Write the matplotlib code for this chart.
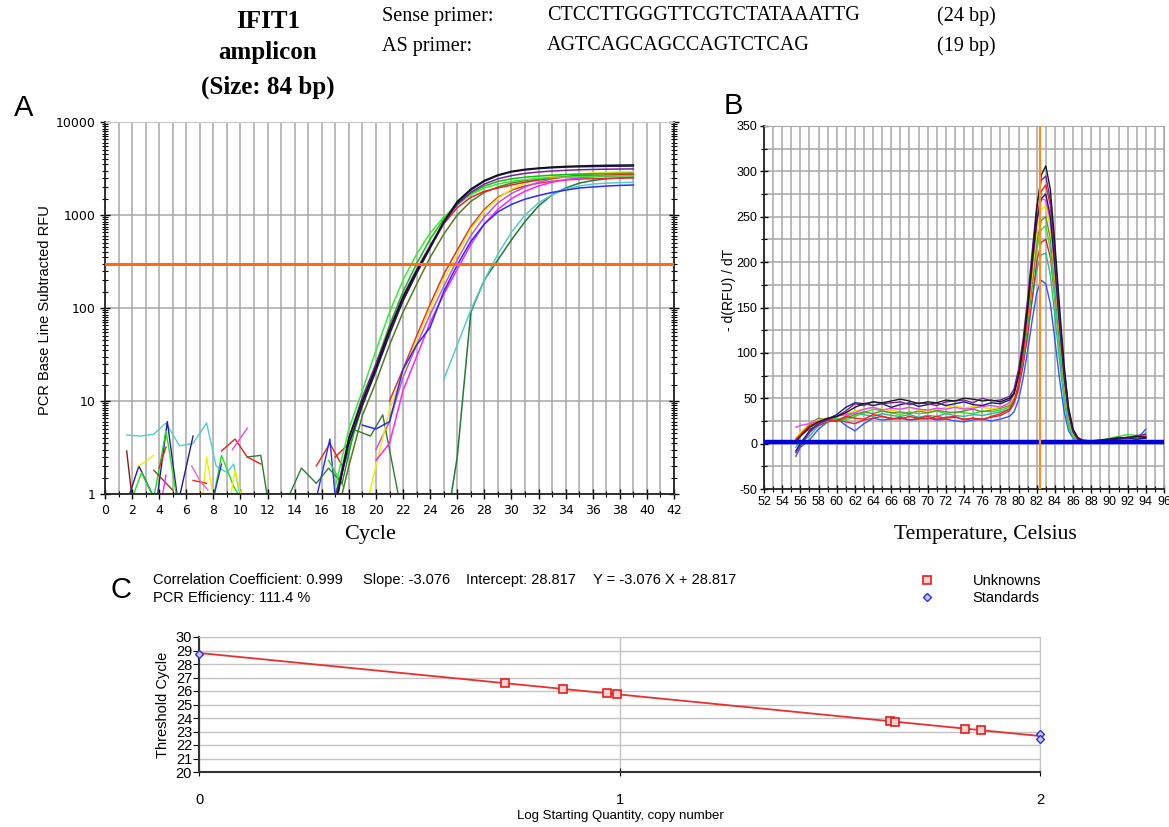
import numpy as np
import matplotlib
matplotlib.use('Agg')
import matplotlib.pyplot as plt
from matplotlib.ticker import LogLocator, NullFormatter, MultipleLocator

plt.rcParams['font.family'] = ['DejaVu Sans']
plt.rcParams['axes.unicode_minus'] = False

nan = np.nan

# ---------------- A: amplification curves (cycles 17..39) ----------------
cycles = np.arange(17, 40)
threshold = 300

amp_black   = [0.7, 4, 10, 23, 58, 130, 250, 455, 850, 1400, 1900, 2350, 2700, 2950, 3100, 3200, 3280, 3330, 3370, 3400, 3420, 3440, 3450]
amp_navy    = [0.8, 3.5, 9, 21, 52, 120, 235, 440, 820, 1350, 1850, 2300, 2650, 2900, 3050, 3150, 3220, 3270, 3300, 3320, 3340, 3350, 3360]
amp_purple  = [0.9, 4, 11, 25, 60, 135, 260, 470, 830, 1300, 1750, 2150, 2450, 2650, 2800, 2900, 2970, 3020, 3060, 3090, 3110, 3120, 3130]
amp_lime    = [1.2, 5, 13, 35, 90, 200, 380, 640, 950, 1290, 1650, 1950, 2150, 2300, 2400, 2470, 2520, 2560, 2590, 2610, 2630, 2640, 2650]
amp_green   = [1.0, 3, 9, 25, 65, 150, 300, 550, 900, 1300, 1700, 2050, 2300, 2450, 2550, 2620, 2680, 2720, 2750, 2770, 2790, 2800, 2810]
amp_red     = [2.5, 3.5, 9, 22, 55, 120, 240, 450, 800, 1200, 1550, 1800, 1950, 2100, 2250, 2380, 2480, 2560, 2620, 2660, 2690, 2710, 2720]
amp_olive   = [0.5, 2, 7, 16, 40, 90, 180, 350, 620, 1000, 1400, 1750, 2000, 2200, 2350, 2450, 2520, 2570, 2600, 2620, 2640, 2650, 2660]
amp_blue    = [nan, nan, 5.5, 5, 6, 22, 40, 62, 150, 290, 520, 800, 1080, 1300, 1480, 1620, 1750, 1850, 1950, 2000, 2050, 2080, 2100]
amp_magenta = [nan, nan, nan, 2.3, 3.5, 13, 30, 70, 140, 260, 480, 800, 1150, 1500, 1800, 2050, 2250, 2400, 2500, 2580, 2630, 2660, 2680]
amp_yellow  = [nan, nan, 0.5, 2, 8, 20, 45, 100, 200, 380, 700, 1100, 1500, 1900, 2200, 2450, 2600, 2700, 2780, 2830, 2870, 2890, 2900]
amp_violet  = [nan, nan, nan, 3, 6, 18, 40, 85, 170, 330, 600, 950, 1350, 1700, 2000, 2250, 2450, 2600, 2700, 2780, 2830, 2860, 2880]
amp_crimson = [nan, nan, nan, nan, 10, 22, 50, 110, 230, 420, 750, 1150, 1550, 1850, 2050, 2200, 2300, 2380, 2430, 2460, 2480, 2490, 2500]
amp_cyan    = [nan, nan, nan, nan, nan, nan, nan, nan, 17, 40, 95, 200, 380, 650, 1000, 1350, 1650, 1900, 2050, 2150, 2200, 2230, 2250]
amp_dkgreen = [nan, nan, nan, nan, nan, nan, nan, nan, 0.3, 2.5, 90, 200, 330, 540, 850, 1250, 1650, 1950, 2200, 2350, 2450, 2500, 2550]

# early-cycle noise traces
noise_cyan_x = [1.6, 2.6, 3.6, 4.5, 5.5, 6.5, 7.5, 8.2, 9.0, 9.5, 10.0]
noise_cyan_y = [4.3, 4.2, 4.4, 5.8, 3.3, 3.5, 5.8, 2.0, 1.7, 2.1, 0.9]
noise_maroon_x = [1.6, 2.0]
noise_maroon_y = [2.9, 0.9]
noise_navy_x = [1.6, 2.5, 3.8, 4.6, 5.4, 6.5]
noise_navy_y = [0.8, 2.0, 0.8, 6.0, 0.8, 4.2]
noise_lime_x = [2.0, 2.7, 3.6, 4.5, 5.3]
noise_lime_y = [0.9, 1.7, 0.9, 4.8, 0.9]
noise_lime2_x = [8.0, 8.6, 9.5, 10.0]
noise_lime2_y = [0.9, 2.6, 1.2, 0.9]
noise_yellow_x = [2.5, 3.6]
noise_yellow_y = [2.0, 2.6]
noise_yellow2_x = [7.2, 7.5, 8.0]
noise_yellow2_y = [0.9, 2.5, 0.9]
noise_yellow3_x = [9.3, 9.6, 10.1]
noise_yellow3_y = [1.0, 1.8, 0.9]
noise_brown_x = [3.6, 5.0]
noise_brown_y = [1.8, 1.1]
noise_red_x = [4.0, 4.5]
noise_red_y = [1.9, 3.2]
noise_red2_x = [6.5, 7.5]
noise_red2_y = [1.4, 1.3]
noise_red3_x = [8.6, 9.6, 10.5, 11.5]
noise_red3_y = [2.9, 3.9, 2.5, 2.1]
noise_red4_x = [15.6, 16.6, 17.6]
noise_red4_y = [2.0, 3.5, 1.9]
noise_magenta_x = [4.2, 4.5]
noise_magenta_y = [0.9, 1.6]
noise_magenta2_x = [9.4, 10.5]
noise_magenta2_y = [3.0, 5.1]
noise_orchid_x = [6.4, 7.0, 7.6]
noise_orchid_y = [2.0, 1.4, 1.1]
noise_blue_x = [8.0, 8.6]
noise_blue_y = [0.9, 2.1]
noise_blue2_x = [15.6, 16.6, 17.0]
noise_blue2_y = [0.9, 3.9, 0.9]
noise_green_x = [16.5, 17.6]
noise_green_y = [2.3, 1.2]
noise_dkgreen_x = [10.5, 11.5, 12.0, 13.5, 14.5, 15.6, 16.5, 17.5, 18.4, 19.6, 20.5, 21.7]
noise_dkgreen_y = [2.5, 2.6, 0.9, 0.9, 1.9, 1.3, 1.9, 1.3, 4.9, 4.2, 7.1, 0.9]

# ---------------- B: melt curves ----------------
temps = [55.5, 56, 57, 58, 59, 60, 61, 62, 63, 64, 65, 66, 67, 68, 69, 70, 71, 72, 73, 74, 75, 76, 77, 78, 79,
         79.5, 80, 80.5, 81, 81.5, 82, 82.5, 83, 83.5, 84, 84.5, 85, 85.5, 86, 86.5, 87,
         88, 89, 90, 91, 92, 93, 94]
melt_peak_temp = 82.4
melt_baseline = 2

melt_black = [2, 8, 18, 24, 28, 30, 34, 40, 44, 46, 45, 47, 49, 47, 44, 46, 45, 48, 47, 50, 49, 47, 48, 46, 50,
              56, 75, 108, 152, 205, 258, 296, 306, 280, 220, 152, 88, 40, 16, 7, 4,
              3, 4, 5, 6, 7, 8, 7]
melt_purple = [-10, -2, 12, 22, 26, 30, 36, 44, 42, 46, 44, 45, 46, 43, 45, 44, 42, 46, 47, 48, 45, 50, 47, 48, 52,
               60, 82, 115, 160, 212, 262, 290, 295, 268, 212, 145, 84, 38, 15, 6, 3,
               2, 3, 5, 7, 6, 9, 10]
melt_red = [5, 10, 20, 24, 26, 25, 30, 28, 27, 32, 30, 28, 27, 30, 28, 27, 30, 28, 29, 27, 28, 26, 30, 33, 38,
            46, 65, 98, 142, 195, 245, 278, 285, 262, 205, 140, 80, 36, 14, 6, 3,
            2, 3, 4, 6, 5, 7, 8]
melt_navy = [-8, 0, 14, 22, 27, 32, 40, 45, 44, 42, 44, 40, 43, 45, 41, 43, 45, 42, 44, 46, 43, 42, 45, 44, 48,
             55, 76, 108, 150, 200, 245, 270, 275, 250, 195, 132, 75, 34, 13, 5, 3,
             2, 2, 4, 5, 6, 5, 6]
melt_yellow = [6, 12, 22, 26, 28, 30, 33, 36, 38, 40, 38, 36, 38, 40, 37, 36, 38, 40, 42, 39, 41, 40, 38, 40, 44,
               52, 70, 100, 140, 186, 232, 258, 262, 238, 185, 124, 70, 30, 11, 4, 2,
               0, 1, 3, 5, 4, 6, 5]
melt_olive = [4, 10, 22, 28, 26, 24, 28, 32, 35, 33, 36, 34, 35, 33, 36, 34, 37, 35, 34, 36, 38, 35, 37, 39, 42,
              50, 68, 96, 134, 178, 222, 246, 250, 226, 176, 118, 66, 29, 11, 5, 3,
              2, 3, 4, 5, 7, 6, 7]
melt_lime = [0, 8, 18, 22, 25, 28, 26, 30, 34, 38, 36, 34, 32, 35, 33, 34, 36, 33, 35, 34, 33, 36, 35, 37, 40,
             48, 66, 94, 130, 172, 214, 236, 240, 214, 160, 104, 55, 22, 8, 4, 3,
             3, 4, 6, 8, 10, 9, 8]
melt_crimson = [3, 9, 16, 20, 24, 26, 24, 22, 26, 28, 30, 27, 29, 26, 28, 30, 27, 29, 30, 26, 28, 27, 29, 31, 36,
                44, 60, 86, 120, 160, 200, 222, 225, 205, 160, 110, 62, 27, 10, 4, 2,
                1, 2, 3, 4, 6, 5, 6]
melt_teal = [-4, 2, 8, 20, 24, 26, 30, 34, 32, 30, 33, 31, 30, 32, 29, 31, 30, 33, 31, 30, 32, 31, 33, 35, 38,
             46, 62, 88, 120, 158, 192, 208, 210, 186, 140, 92, 48, 18, 7, 3, 2,
             1, 2, 3, 4, 5, 4, 12]
melt_blue = [-14, -4, 4, 16, 24, 28, 20, 14, 22, 28, 26, 27, 28, 26, 27, 28, 26, 27, 25, 24, 26, 27, 25, 27, 30,
             35, 48, 72, 102, 136, 166, 180, 176, 154, 114, 72, 36, 14, 6, 3, 2,
             1, 2, 3, 2, 4, 5, 16]
melt_magenta = [18, 20, 22, 25, 28, 30, 32, 34, 38, 40, 37, 39, 38, 40, 38, 37, 39, 38, 40, 38, 39, 41, 42, 40, 45,
                55, 72, 104, 146, 196, 244, 270, 268, 246, 190, 128, 72, 32, 12, 5, 3,
                2, 3, 4, 5, 6, 7, 6]

# ---------------- C: standard curve ----------------
corr_coef = 0.999
slope = -3.076
intercept = 28.817
efficiency = 111.4
unknown_logq = [0.728, 0.866, 0.970, 0.993, 1.643, 1.655, 1.822, 1.859]
unknown_ct = [26.59, 26.15, 25.83, 25.78, 23.78, 23.70, 23.19, 23.10]
standard_logq = [0, 2, 2]
standard_ct = [28.75, 22.85, 22.45]

W, H = 1169, 827
fig = plt.figure(figsize=(11.69, 8.27), dpi=100)


def fx(px):
    return px / W


def fy(py):
    return 1 - py / H


serif = 'Liberation Serif'
sans = 'Liberation Sans'
grid_c = '#a8a8a8'

# header
for txt, y in [('IFIT1', 21), ('amplicon', 52), ('(Size: 84 bp)', 87)]:
    fig.text(fx(268), fy(y), txt, ha='center', va='center', family=serif, weight='bold', size=18)
fig.text(fx(382), fy(16), 'Sense primer:', ha='left', va='center', family=serif, size=14.5)
fig.text(fx(547), fy(16), 'CTCCTTGGGTTCGTCTATAAATTG', ha='left', va='center', family=serif, size=14.5)
fig.text(fx(937), fy(16), '(24 bp)', ha='left', va='center', family=serif, size=14.5)
fig.text(fx(382), fy(46), 'AS primer:', ha='left', va='center', family=serif, size=14.5)
fig.text(fx(547), fy(46), 'AGTCAGCAGCCAGTCTCAG', ha='left', va='center', family=serif, size=14.5)
fig.text(fx(937), fy(46), '(19 bp)', ha='left', va='center', family=serif, size=14.5)

fig.text(fx(24), fy(108), 'A', ha='center', va='center', family=sans, size=21)
fig.text(fx(733), fy(106), 'B', ha='center', va='center', family=sans, size=21)
fig.text(fx(121), fy(590), 'C', ha='center', va='center', family=sans, size=21)

# ---- panel A ----
axA = fig.add_axes([fx(105), fy(494), 569 / W, 372 / H])
axA.set_yscale('log')
axA.set_xlim(0, 42)
axA.set_ylim(1, 10000)
axA.set_xticks(range(0, 43, 2))
axA.set_xticks(range(0, 43), minor=True)
axA.set_yticks([1, 10, 100, 1000, 10000])
axA.set_yticklabels(['1', '10', '100', '1000', '10000'])
axA.yaxis.set_minor_locator(LogLocator(base=10, subs=np.arange(1.5, 10, 0.5)))
axA.yaxis.set_minor_formatter(NullFormatter())
axA.grid(True, which='both', axis='x', color=grid_c, lw=1.1)
axA.grid(True, which='major', axis='y', color=grid_c, lw=1.1)
axA.tick_params(which='major', direction='inout', length=7, width=1, labelsize=9, right=True)
axA.tick_params(which='minor', direction='inout', length=4, width=0.8, right=True)
for s in ['left', 'bottom', 'right']:
    axA.spines[s].set_color('#222222')
    axA.spines[s].set_linewidth(1.3)
axA.spines['top'].set_color('#c8c8c8')

noise = [
    (noise_cyan_x, noise_cyan_y, '#55cccc'), (noise_maroon_x, noise_maroon_y, '#8b1a1a'),
    (noise_navy_x, noise_navy_y, '#2b1b8a'), (noise_lime_x, noise_lime_y, '#22dd22'),
    (noise_lime2_x, noise_lime2_y, '#22dd22'), (noise_yellow_x, noise_yellow_y, '#f0f000'),
    (noise_yellow2_x, noise_yellow2_y, '#f0f000'), (noise_yellow3_x, noise_yellow3_y, '#f0f000'),
    (noise_brown_x, noise_brown_y, '#8b4513'), (noise_red_x, noise_red_y, '#ee2222'),
    (noise_red2_x, noise_red2_y, '#ee2222'), (noise_red3_x, noise_red3_y, '#dd2222'),
    (noise_red4_x, noise_red4_y, '#ee2222'), (noise_magenta_x, noise_magenta_y, '#ff22ff'),
    (noise_magenta2_x, noise_magenta2_y, '#ee44ee'), (noise_orchid_x, noise_orchid_y, '#dd66dd'),
    (noise_blue_x, noise_blue_y, '#2a2aff'), (noise_blue2_x, noise_blue2_y, '#2a2aff'),
    (noise_green_x, noise_green_y, '#22dd22'), (noise_dkgreen_x, noise_dkgreen_y, '#2e7d32'),
]
for xs, ys, c in noise:
    axA.plot(xs, ys, color=c, lw=1)

amp_curves = [
    (amp_dkgreen, '#1e7b3a'), (amp_cyan, '#55cccc'), (amp_crimson, '#e03040'),
    (amp_violet, '#c050f0'), (amp_yellow, '#f0f000'), (amp_magenta, '#ff22ff'),
    (amp_blue, '#2a2aff'), (amp_olive, '#557a22'), (amp_red, '#ee2222'),
    (amp_green, '#11bb11'), (amp_lime, '#33ee33'), (amp_purple, '#7a1f9a'),
    (amp_navy, '#191970'), (amp_black, '#111111'),
]
for vals, c in amp_curves:
    axA.plot(cycles, vals, color=c, lw=1.1)
axA.axhline(threshold, color='#ff6a1a', lw=2.2, zorder=4)

fig.text(fx(45), fy(310), 'PCR Base Line Subtracted RFU', rotation=90, ha='center', va='center',
         family=sans, size=10.5)
fig.text(fx(370), fy(535), 'Cycle', ha='center', va='center', family=serif, size=16)

# ---- panel B ----
axB = fig.add_axes([fx(764), fy(489), 400 / W, 363 / H])
axB.set_xlim(52, 96)
axB.set_ylim(-50, 350)
axB.xaxis.set_major_locator(MultipleLocator(2))
axB.xaxis.set_minor_locator(MultipleLocator(1))
axB.yaxis.set_major_locator(MultipleLocator(50))
axB.yaxis.set_minor_locator(MultipleLocator(25))
axB.grid(True, which='both', color=grid_c, lw=1.1)
axB.tick_params(which='major', direction='inout', length=6, width=1, labelsize=9, pad=2)
axB.tick_params(which='minor', direction='inout', length=4, width=0.8)
for lab in axB.get_xticklabels() + axB.get_yticklabels():
    lab.set_family(sans)
for s in ['left', 'bottom']:
    axB.spines[s].set_color('#222222')
    axB.spines[s].set_linewidth(1.3)
for s in ['top', 'right']:
    axB.spines[s].set_color(grid_c)

melt_curves = [
    (melt_blue, '#3355ff'), (melt_teal, '#22bb99'), (melt_crimson, '#dd2244'),
    (melt_lime, '#33dd33'), (melt_olive, '#6b8e23'), (melt_yellow, '#e8e800'),
    (melt_magenta, '#ee44ee'), (melt_red, '#ee2222'), (melt_navy, '#1a1a80'),
    (melt_purple, '#7a1f9a'), (melt_black, '#1a1a1a'),
]
for vals, c in melt_curves:
    axB.plot(temps, vals, color=c, lw=1)
axB.axhline(melt_baseline, color='#0000dd', lw=3.2, zorder=4)
axB.axvline(melt_peak_temp, color='#ff8c1a', lw=1.6, zorder=4)

fig.text(fx(729), fy(290), '- d(RFU) / dT', rotation=90, ha='center', va='center', family=sans, size=10)
fig.text(fx(985), fy(535), 'Temperature, Celsius', ha='center', va='center', family=serif, size=15.5)

# ---- panel C ----
fig.text(fx(153), fy(580), 'Correlation Coefficient: %.3f' % corr_coef, ha='left', va='center', family=sans, size=10.5)
fig.text(fx(363), fy(580), 'Slope: %.3f' % slope, ha='left', va='center', family=sans, size=10.5)
fig.text(fx(466), fy(580), 'Intercept: %.3f' % intercept, ha='left', va='center', family=sans, size=10.5)
fig.text(fx(593), fy(580), 'Y = %.3f X + %.3f' % (slope, intercept), ha='left', va='center', family=sans, size=10.5)
fig.text(fx(153), fy(598), 'PCR Efficiency: %.1f %%' % efficiency, ha='left', va='center', family=sans, size=10.5)

axC = fig.add_axes([fx(199), fy(772), 841 / W, 135 / H])
axC.set_xlim(0, 2)
axC.set_ylim(20, 30)
axC.set_xticks([0, 1, 2])
axC.set_yticks(range(20, 31))
axC.grid(True, axis='both', color='#c4c4c4', lw=1)
axC.tick_params(axis='y', direction='out', length=4, labelsize=10.5, pad=1)
axC.tick_params(axis='x', direction='inout', length=6, labelsize=10.5, pad=12)
for lab in axC.get_xticklabels() + axC.get_yticklabels():
    lab.set_family(sans)
for s in ['left', 'bottom']:
    axC.spines[s].set_color('#333333')
    axC.spines[s].set_linewidth(1.5)
for s in ['top', 'right']:
    axC.spines[s].set_color('#c4c4c4')

xs = np.array([0, 2])
axC.plot(xs, slope * xs + intercept, color='#e83030', lw=1.3, zorder=3)
hu, = axC.plot(unknown_logq, unknown_ct, ls='none', marker='s', ms=5.5, mfc='#ffd0d0', mec='#e02020',
               mew=1.2, zorder=4)
hs, = axC.plot(standard_logq, standard_ct, ls='none', marker='D', ms=4, mfc='#c8c8ff', mec='#3030e0',
               mew=1, zorder=4, clip_on=False)
fig.legend([hu, hs], ['Unknowns', 'Standards'], loc='upper left', bbox_to_anchor=(fx(907), fy(561)),
           frameon=False, handlelength=1, handletextpad=2.6, labelspacing=0.2,
           prop={'family': sans, 'size': 10.5})

fig.text(fx(163), fy(705), 'Threshold Cycle', rotation=90, ha='center', va='center', family=sans, size=10.5)
fig.text(fx(620), fy(816), 'Log Starting Quantity, copy number', ha='center', va='center', family=sans, size=9.5)

fig.savefig('out.png', dpi=100)
